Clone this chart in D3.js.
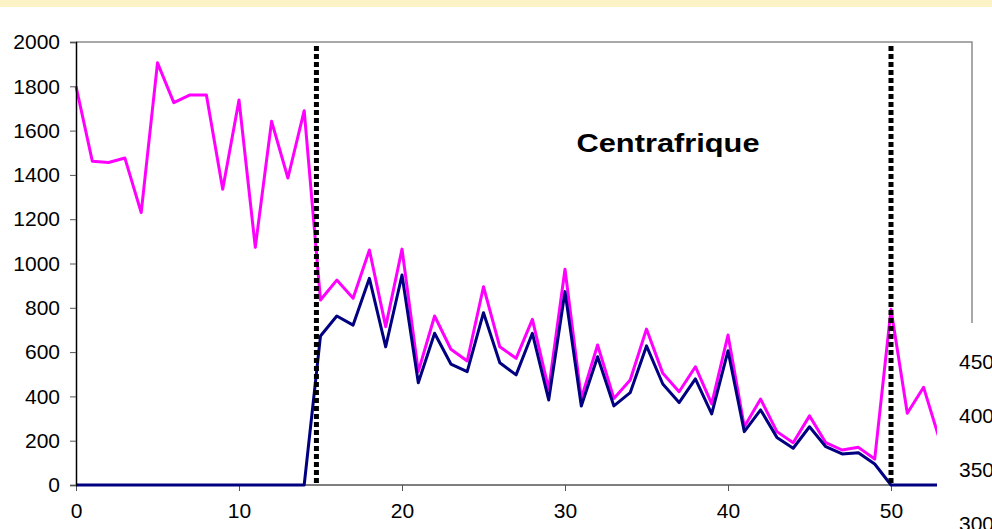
<!DOCTYPE html>
<html>
<head>
<meta charset="utf-8">
<script src="https://cdn.jsdelivr.net/npm/d3@7"></script>
<style>
  body { margin: 0; background: #fff; }
  svg text { font-family: "Liberation Sans", Arial, sans-serif; }
</style>
</head>
<body>
<svg id="chart" width="992" height="529"></svg>
<script>
// weeks 0..53
var weeks = d3.range(0, 54);

// pink line (total)
var total = [1800, 1462, 1456, 1476, 1230, 1906, 1726, 1761, 1761, 1335,
  1738, 1073, 1642, 1386, 1690, 835, 925, 843, 1061, 715,
  1065, 512, 763, 613, 560, 895, 624, 572, 748, 432,
  974, 391, 632, 391, 474, 704, 504, 421, 534, 366,
  677, 263, 388, 241, 191, 312, 191, 158, 170, 117,
  793, 324, 441, 200];

// navy line
var confirmed = [0, 0, 0, 0, 0, 0, 0, 0, 0, 0,
  0, 0, 0, 0, 0, 673, 763, 722, 933, 624,
  948, 462, 685, 546, 512, 778, 552, 497, 685, 384,
  873, 357, 579, 357, 417, 628, 456, 372, 479, 321,
  606, 241, 339, 215, 166, 263, 173, 140, 146, 95,
  0, 0, 0, 0];

var markers = [14.75, 50];
var yTicks = [0, 200, 400, 600, 800, 1000, 1200, 1400, 1600, 1800, 2000];
var xTicks = [0, 10, 20, 30, 40, 50];
var title = 'Centrafrique';

// labels of the next chart that overlaps on the right
var nextTicks = ['450', '400', '350', '300'];

var svg = d3.select('#chart');

// yellow band on top
svg.append('rect').attr('x', 0).attr('y', 0).attr('width', 992).attr('height', 7).attr('fill', '#fbf3c6');

// NB: "top" is taken by window.top, so m.*
var m = { left: 76, right: 972, top: 42, bottom: 485 };

var x = d3.scaleLinear().domain([0, 50]).range([m.left, 891]);
var y = d3.scaleLinear().domain([0, 2000]).range([m.bottom, m.top]);

var plot = svg.append('g');

// frame top + right
plot.append('path')
  .attr('d', 'M' + m.left + ',' + m.top + 'H' + m.right + 'V' + 323)
  .attr('fill', 'none').attr('stroke', '#8c8c8c').attr('stroke-width', 1.5);

var line = d3.line()
  .x(function(d, i) { return x(weeks[i]); })
  .y(function(d) { return y(d); });

plot.append('path').datum(total)
  .attr('d', line).attr('fill', 'none')
  .attr('stroke', '#ff00ff').attr('stroke-width', 3).attr('stroke-linejoin', 'round');

// x axis
var xAxis = plot.append('g').attr('transform', 'translate(0,' + m.bottom + ')')
  .call(d3.axisBottom(x).tickValues(xTicks).tickSize(6).tickPadding(12));
xAxis.select('.domain').attr('d', 'M' + m.left + ',0H' + m.right).attr('stroke', '#555').attr('stroke-width', 1.5);
xAxis.selectAll('.tick line').attr('stroke', '#555');
xAxis.selectAll('text').attr('font-size', 21).attr('fill', '#000');

plot.append('path').datum(confirmed)
  .attr('d', line).attr('fill', 'none')
  .attr('stroke', '#000080').attr('stroke-width', 3).attr('stroke-linejoin', 'round');

// y axis
var yAxis = plot.append('g').attr('transform', 'translate(' + m.left + ',0)')
  .call(d3.axisLeft(y).tickValues(yTicks).tickSize(6).tickPadding(10).tickFormat(d3.format('d')));
yAxis.select('.domain').attr('stroke', '#000').attr('stroke-width', 1.5);
yAxis.selectAll('.tick line').attr('stroke', '#555');
yAxis.selectAll('text').attr('font-size', 21).attr('fill', '#000');

// dotted markers
plot.selectAll('.marker').data(markers).enter().append('line')
  .attr('class', 'marker')
  .attr('x1', function(d) { return x(d); }).attr('x2', function(d) { return x(d); })
  .attr('y1', m.top + 4).attr('y2', m.bottom)
  .attr('stroke', '#000').attr('stroke-width', 5).attr('stroke-dasharray', '5,3');

plot.append('text')
  .attr('x', 668).attr('y', 152)
  .attr('text-anchor', 'middle')
  .attr('font-size', 26).attr('font-weight', 'bold')
  .attr('textLength', 183).attr('lengthAdjust', 'spacingAndGlyphs')
  .text(title);

// overlapping chart corner
var over = svg.append('g');
over.append('rect').attr('x', 937).attr('y', 323).attr('width', 60).attr('height', 210).attr('fill', '#fff');
over.selectAll('text').data(nextTicks).enter().append('text')
  .attr('x', 959)
  .attr('y', function(d, i) { return 369 + i * 54; })
  .attr('font-size', 21)
  .text(function(d) { return d; });
</script>
</body>
</html>
